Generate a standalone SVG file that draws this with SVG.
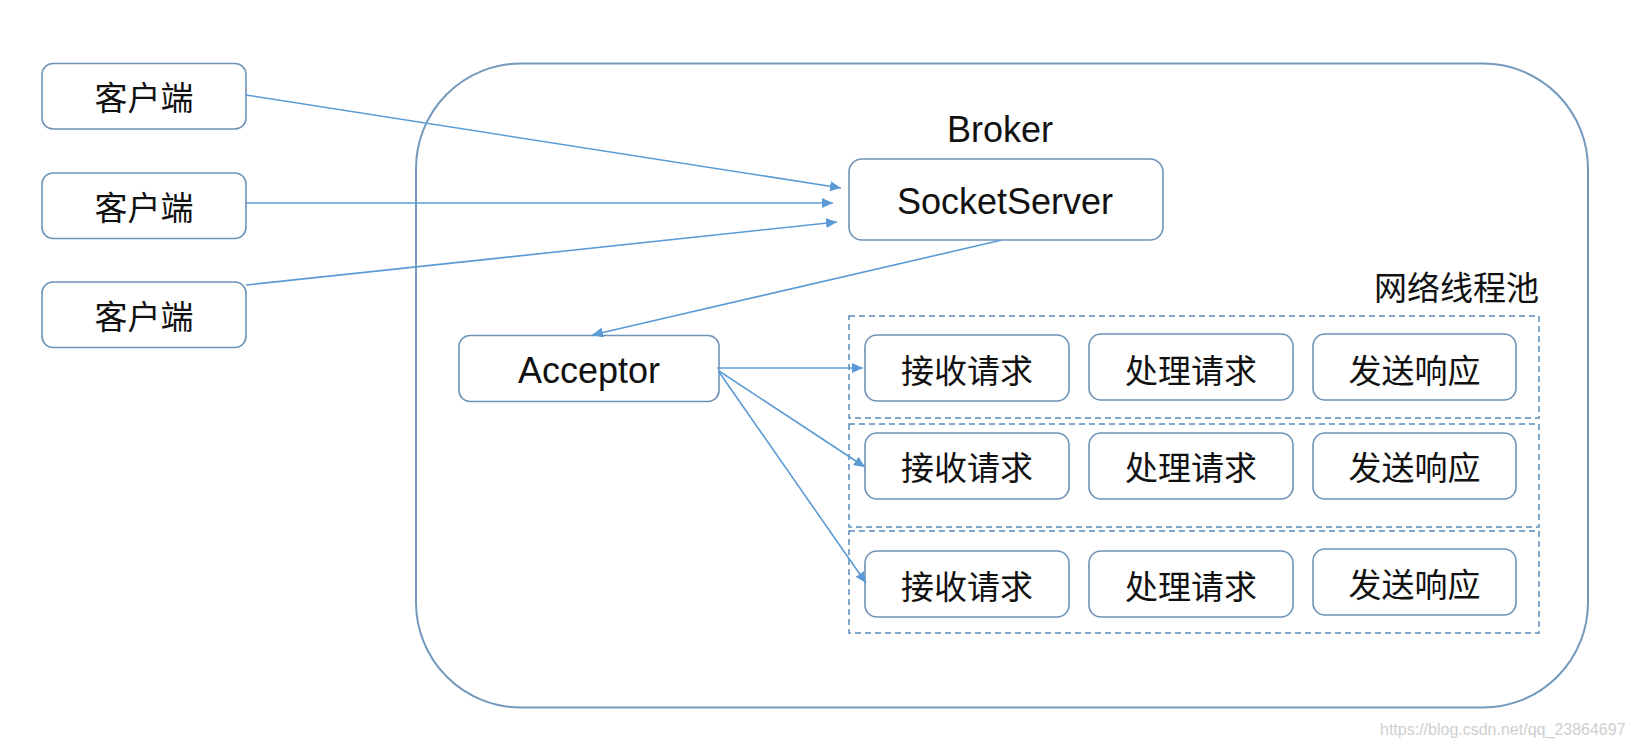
<svg xmlns="http://www.w3.org/2000/svg" width="1633" height="748" viewBox="0 0 1633 748">
<style>
.box{fill:#fff;stroke:#6d93b8;stroke-width:1.6}
.outer{fill:none;stroke:#7399bd;stroke-width:2}
.pool{fill:none;stroke:#5b8bb8;stroke-width:1.5;stroke-dasharray:6 4}
.conn{stroke:#5b9bd5;stroke-width:1.6;fill:none}
.cjk{font-family:"Noto Sans CJK SC","Noto Sans",sans-serif;font-size:33px;fill:#111;text-anchor:middle}
.lat{font-family:"Liberation Sans","Noto Sans",sans-serif;font-size:36px;fill:#111;text-anchor:middle}
.wm{font-family:"Liberation Sans",sans-serif;font-size:16px;fill:#cfcfcf}
</style>
<defs>
<marker id="arr" markerUnits="userSpaceOnUse" markerWidth="12" markerHeight="10" refX="11" refY="5" orient="auto">
<path d="M0,0 L11,5 L0,10 Z" fill="#5b9bd5"/>
</marker>
</defs>
<rect width="1633" height="748" fill="#fff"/>
<g id="broker">
<rect class="outer" x="416" y="63.5" width="1172" height="644" rx="105"/>
<text class="lat" x="1000" y="142">Broker</text>
</g>
<g id="pool">
<text class="cjk" x="1539" y="300" style="text-anchor:end">网络线程池</text>
<rect class="pool" x="849" y="316" width="690" height="102"/>
<rect class="pool" x="849" y="424" width="690" height="103"/>
<rect class="pool" x="849" y="531" width="690" height="102"/>
</g>
<g id="client1"><rect class="box" x="42" y="63.5" width="204" height="65.5" rx="11"/><text class="cjk" x="144" y="110">客户端</text></g>
<g id="client2"><rect class="box" x="42" y="173" width="204" height="65.5" rx="11"/><text class="cjk" x="144" y="220">客户端</text></g>
<g id="client3"><rect class="box" x="42" y="282" width="204" height="65.5" rx="11"/><text class="cjk" x="144" y="329">客户端</text></g>
<g id="socketserver"><rect class="box" x="849" y="159" width="314" height="81" rx="13"/><text class="lat" x="1005" y="214">SocketServer</text></g>
<g id="acceptor"><rect class="box" x="459" y="335.5" width="260" height="66" rx="11"/><text class="lat" x="589" y="383">Acceptor</text></g>
<g id="row1">
<g id="recv1"><rect class="box" x="865" y="335" width="204" height="66" rx="12"/><text class="cjk" x="967" y="383">接收请求</text></g>
<g id="proc1"><rect class="box" x="1089" y="334" width="204" height="66" rx="12"/><text class="cjk" x="1191" y="383">处理请求</text></g>
<g id="send1"><rect class="box" x="1313" y="334" width="203" height="66" rx="12"/><text class="cjk" x="1414.5" y="383">发送响应</text></g>
</g>
<g id="row2">
<g id="recv2"><rect class="box" x="865" y="433" width="204" height="66" rx="12"/><text class="cjk" x="967" y="480">接收请求</text></g>
<g id="proc2"><rect class="box" x="1089" y="433" width="204" height="66" rx="12"/><text class="cjk" x="1191" y="480">处理请求</text></g>
<g id="send2"><rect class="box" x="1313" y="433" width="203" height="66" rx="12"/><text class="cjk" x="1414.5" y="480">发送响应</text></g>
</g>
<g id="row3">
<g id="recv3"><rect class="box" x="865" y="551" width="204" height="66" rx="12"/><text class="cjk" x="967" y="599">接收请求</text></g>
<g id="proc3"><rect class="box" x="1089" y="551" width="204" height="66" rx="12"/><text class="cjk" x="1191" y="599">处理请求</text></g>
<g id="send3"><rect class="box" x="1313" y="549" width="203" height="66" rx="12"/><text class="cjk" x="1414.5" y="597">发送响应</text></g>
</g>
<g id="connectors">
<line class="conn" x1="246" y1="95" x2="841" y2="188" marker-end="url(#arr)"/>
<line class="conn" x1="246" y1="203" x2="833" y2="203" marker-end="url(#arr)"/>
<line class="conn" x1="246" y1="285" x2="837" y2="222" marker-end="url(#arr)"/>
<line class="conn" x1="1002" y1="240" x2="592" y2="335" marker-end="url(#arr)"/>
<line class="conn" x1="717" y1="368" x2="863" y2="368" marker-end="url(#arr)"/>
<line class="conn" x1="719" y1="371" x2="865" y2="467" marker-end="url(#arr)"/>
<line class="conn" x1="719" y1="372" x2="866" y2="583" marker-end="url(#arr)"/>
</g>
<text class="wm" x="1380" y="735">https://blog.csdn.net/qq_23864697</text>
</svg>
